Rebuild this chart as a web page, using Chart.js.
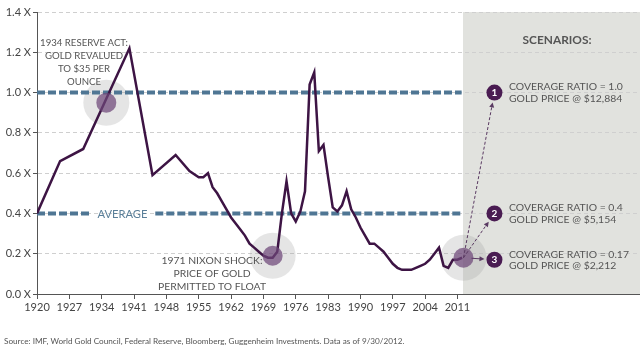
<!DOCTYPE html>
<html>
<head>
<meta charset="utf-8">
<script src="https://cdn.jsdelivr.net/npm/chart.js@4"></script>
<style>
  html, body { margin: 0; padding: 0; background: #fff; }
  canvas { display: block; }
</style>
</head>
<body>
<canvas id="myChart" width="640" height="358"></canvas>
<script>
// gold coverage ratio by year
const years = [1920, 1925, 1930, 1940, 1945, 1950, 1953, 1955, 1956, 1957, 1958, 1959, 1960, 1961, 1962, 1963, 1964, 1965, 1966, 1967, 1968, 1969, 1970, 1971, 1972, 1973, 1974, 1975, 1976, 1977, 1978, 1979, 1980, 1981, 1982, 1983, 1984, 1985, 1986, 1987, 1988, 1989, 1990, 1991, 1992, 1993, 1994, 1995, 1996, 1997, 1998, 1999, 2000, 2001, 2002, 2003, 2004, 2005, 2006, 2007, 2008, 2009, 2010, 2011, 2012]
const ratio = [0.40, 0.66, 0.72, 1.22, 0.59, 0.69, 0.61, 0.58, 0.58, 0.60, 0.53, 0.50, 0.46, 0.42, 0.38, 0.35, 0.32, 0.29, 0.25, 0.23, 0.21, 0.19, 0.18, 0.18, 0.21, 0.40, 0.56, 0.40, 0.36, 0.41, 0.51, 1.04, 1.10, 0.71, 0.74, 0.58, 0.43, 0.41, 0.44, 0.51, 0.42, 0.38, 0.33, 0.29, 0.25, 0.25, 0.23, 0.21, 0.18, 0.15, 0.13, 0.12, 0.12, 0.12, 0.13, 0.14, 0.15, 0.17, 0.20, 0.23, 0.14, 0.13, 0.17, 0.17, 0.18]

const xTicks = [1920, 1927, 1934, 1941, 1948, 1955, 1962, 1969, 1976, 1983, 1990, 1997, 2004, 2011]
const yTicks = [0, 0.2, 0.4, 0.6, 0.8, 1.0, 1.2, 1.4]

const averageRatio = 0.4
const fullRatio = 1.0

// highlighted events
const highlightYears = [1935, 1971, 2012.3]
const highlightValues = [0.95, 0.19, 0.18]

// scenarios
const scenarioYear = 2019
const scenarioRatios = [1.0, 0.4, 0.17]
const scenarioLabels = ['1.0', '0.4', '0.17']
const scenarioPrices = ['$12,884', '$5,154', '$2,212']
const panelStart = 2012.2

const FONT = 'Lato, "Open Sans", sans-serif'
const purple = '#3d1444'
const blue = '#4f7694'

// pick a font size so that `text` is `w` px wide
function fitFont(ctx, text, w, weight) {
    const pre = weight ? weight + ' ' : ''
    ctx.font = pre + '10px ' + FONT
    const size = 10 * w / ctx.measureText(text).width
    return pre + size.toFixed(2) + 'px ' + FONT
}

const extras = {
    id: 'extras',
    beforeDraw(chart) {
        const {ctx, chartArea, scales: {x}} = chart
        const px = x.getPixelForValue(panelStart)
        ctx.save()
        ctx.fillStyle = '#e1e2de'
        ctx.fillRect(px, chartArea.top, chartArea.right - px, chartArea.bottom - chartArea.top)
        ctx.restore()
    },
    afterDraw(chart) {
        const {ctx, scales: {x, y}} = chart
        ctx.save()
        ctx.textBaseline = 'middle'
        ctx.textAlign = 'center'

        // AVERAGE label
        ctx.font = fitFont(ctx, 'AVERAGE', 50)
        ctx.fillStyle = '#5a7f99'
        ctx.fillText('AVERAGE', x.getPixelForValue(1938.5), y.getPixelForValue(averageRatio) + 1)

        // event notes
        ctx.fillStyle = '#555'
        const n1 = ['1934 RESERVE ACT:', 'GOLD REVALUED', 'TO $35 PER', 'OUNCE']
        ctx.font = fitFont(ctx, n1[0], 88)
        n1.forEach((t, i) => ctx.fillText(t, 84, 42.5 + i * 13))
        const n2 = ['1971 NIXON SHOCK:', 'PRICE OF GOLD', 'PERMITTED TO FLOAT']
        ctx.font = fitFont(ctx, n2[2], 108)
        n2.forEach((t, i) => ctx.fillText(t, 212, 261 + i * 13))

        // scenarios
        ctx.font = fitFont(ctx, 'SCENARIOS:', 69, 'bold')
        ctx.fillText('SCENARIOS:', 557, 40)

        const scenFont = fitFont(ctx, 'COVERAGE RATIO = 1.0', 114)
        const sx = x.getPixelForValue(highlightYears[2])
        const sy = y.getPixelForValue(highlightValues[2])
        scenarioRatios.forEach((r, i) => {
            const cx = x.getPixelForValue(scenarioYear)
            const cy = y.getPixelForValue(r)
            // arrow
            const dx = cx - sx, dy = cy - sy
            const len = Math.sqrt(dx * dx + dy * dy)
            const ux = dx / len, uy = dy / len
            const ex = cx - ux * 10, ey = cy - uy * 10
            const startOff = i == 2 ? 8 : 0
            ctx.strokeStyle = '#5a3a62'
            ctx.lineWidth = 1
            ctx.setLineDash(i == 2 ? [] : [3, 2])
            ctx.beginPath()
            ctx.moveTo(sx + ux * startOff, sy + uy * startOff)
            ctx.lineTo(ex - ux * 3, ey - uy * 3)
            ctx.stroke()
            ctx.setLineDash([])
            ctx.fillStyle = '#5a3a62'
            ctx.beginPath()
            ctx.moveTo(ex, ey)
            ctx.lineTo(ex - ux * 5 - uy * 2.5, ey - uy * 5 + ux * 2.5)
            ctx.lineTo(ex - ux * 5 + uy * 2.5, ey - uy * 5 - ux * 2.5)
            ctx.closePath()
            ctx.fill()

            // number
            ctx.fillStyle = '#fff'
            ctx.font = 'bold 10px ' + FONT
            ctx.textAlign = 'center'
            ctx.fillText(String(i + 1), cx, cy + 0.5)

            ctx.fillStyle = '#555'
            ctx.font = scenFont
            ctx.textAlign = 'left'
            ctx.fillText('COVERAGE RATIO = ' + scenarioLabels[i], 509, cy - 5.5)
            ctx.fillText('GOLD PRICE @ ' + scenarioPrices[i], 509, cy + 6)
        })

        // source
        const src = 'Source: IMF, World Gold Council, Federal Reserve, Bloomberg, Guggenheim Investments. Data as of 9/30/2012.'
        ctx.font = fitFont(ctx, src, 401)
        ctx.fillStyle = '#555'
        ctx.textAlign = 'left'
        ctx.fillText(src, 4, 341)
        ctx.restore()
    }
}

const pts = (xs, ys) => xs.map((v, i) => ({x: v, y: ys[i]}))

new Chart(document.getElementById('myChart').getContext('2d'), {
    type: 'line',
    data: {
        datasets: [
            {
                type: 'scatter',
                data: scenarioRatios.map(r => ({x: scenarioYear, y: r})),
                pointRadius: 8,
                pointBackgroundColor: '#4a1c52',
                pointBorderWidth: 0
            },
            {
                type: 'scatter',
                data: pts(highlightYears, highlightValues),
                pointRadius: 10,
                pointBackgroundColor: 'rgba(110,70,120,0.72)',
                pointBorderWidth: 0
            },
            {
                data: pts(years, ratio),
                borderColor: purple,
                borderWidth: 2.5,
                pointRadius: 0,
                tension: 0
            },
            {
                data: [{x: 1920, y: fullRatio}, {x: panelStart - 0.3, y: fullRatio}],
                borderColor: blue,
                borderWidth: 4,
                borderDash: [8, 3],
                pointRadius: 0
            },
            {
                data: [{x: 1920, y: averageRatio}, {x: 1931.5, y: averageRatio}],
                borderColor: blue,
                borderWidth: 4,
                borderDash: [8, 3],
                pointRadius: 0
            },
            {
                data: [{x: 1945.6, y: averageRatio}, {x: panelStart - 0.3, y: averageRatio}],
                borderColor: blue,
                borderWidth: 4,
                borderDash: [8, 3],
                pointRadius: 0
            },
            {
                type: 'scatter',
                data: pts(highlightYears, highlightValues),
                pointRadius: 23,
                pointBackgroundColor: 'rgba(160,160,160,0.28)',
                pointBorderWidth: 0
            }
        ]
    },
    options: {
        responsive: false,
        animation: false,
        events: [],
        layout: {autoPadding: false, padding: {top: 12, right: 0, left: 0, bottom: 0}},
        plugins: {legend: {display: false}, tooltip: {enabled: false}},
        scales: {
            x: {
                type: 'linear',
                min: 1920,
                max: 2050.5,
                afterBuildTicks: scale => { scale.ticks = xTicks.map(v => ({value: v})) },
                afterFit: scale => { scale.height = 64 },
                grid: {drawOnChartArea: false, drawTicks: true, tickLength: 5, color: '#555'},
                border: {color: '#555', width: 1},
                ticks: {
                    autoSkip: false,
                    maxRotation: 0,
                    padding: 2,
                    color: '#444',
                    font: {family: FONT, size: 11},
                    callback: v => String(v)
                }
            },
            y: {
                min: 0,
                max: 1.4,
                afterBuildTicks: scale => { scale.ticks = yTicks.map(v => ({value: v})) },
                afterFit: scale => { scale.width = 37 },
                grid: {color: '#cfcfcf', tickColor: '#555', tickLength: 4, tickBorderDash: []},
                border: {color: '#555', width: 1, dash: [4, 3]},
                ticks: {
                    padding: 2,
                    color: '#444',
                    font: {family: FONT, size: 11},
                    callback: v => v.toFixed(1) + ' X'
                }
            }
        }
    },
    plugins: [extras]
})
</script>
</body>
</html>
